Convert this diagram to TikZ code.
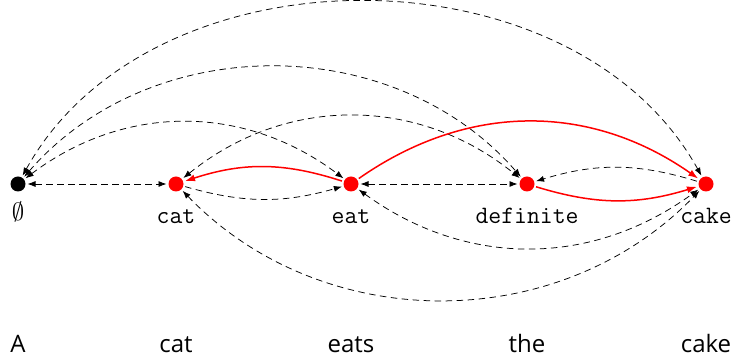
\documentclass[tikz,border=0pt]{standalone}
\usepackage{fontspec}
\newfontfamily\wordfont{Open Sans}
\usetikzlibrary{arrows.meta}
\tikzset{
  dot/.style={circle,fill=#1,minimum size=15pt,inner sep=0pt,outer sep=2pt},
  dot/.default=red,
  dedge/.style={draw=black,line width=0.75pt,dash pattern=on 6.5pt off 4.5pt},
  bothtips/.style={{Latex[length=8pt,width=6pt]}-{Latex[length=8pt,width=6pt]}},
  onetip/.style={-{Latex[length=8pt,width=6pt]}},
  redge/.style={draw=red,line width=1.5pt,-{Latex[length=10pt,width=7pt]}},
  ttlab/.style={anchor=base,font=\fontsize{25}{28}\selectfont\ttfamily,inner sep=0pt},
  wordlab/.style={anchor=base,font=\fontsize{24}{28}\selectfont\wordfont,inner sep=0pt}
}
\begin{document}
\begin{tikzpicture}[x=1pt,y=1pt]
\useasboundingbox (0,0) rectangle (737,364);
\node[dot=black] (e) at (18,180) {};
\node[dot] (cat) at (176,180) {};
\node[dot] (eat) at (351,180) {};
\node[dot] (def) at (527,180) {};
\node[dot] (cake) at (706,180) {};
% labels
\node[anchor=base,inner sep=0pt,font=\fontsize{25}{28}\selectfont] (le) at (18,143) {$\emptyset$};
\node[ttlab] (lcat) at (176,140) {cat};
\node[ttlab] (leat) at (351,140) {eat};
\node[ttlab] (ldef) at (527,140) {definite};
\node[ttlab] (lcake) at (706,140) {cake};
% words
\node[wordlab] (w1) at (18,11) {A};
\node[wordlab] (w2) at (176,11) {cat};
\node[wordlab] (w3) at (351,11) {eats};
\node[wordlab] (w4) at (527,11) {the};
\node[wordlab] (w5) at (706,11) {cake};
% dashed edges
\draw[dedge,bothtips] (e) -- (cat);
\draw[dedge,bothtips] (e) to[bend left=37] (eat);
\draw[dedge,bothtips] (e) to[bend left=49] (def);
\draw[dedge,bothtips] (e) to[bend left=61] (cake);
\draw[dedge,bothtips] (cat) to[bend left=39] (def);
\draw[dedge,onetip] (cat) to[bend right=16] (eat);
\draw[dedge,bothtips] (eat) -- (def);
\draw[dedge,onetip] (cake) to[bend right=17] (def);
\draw[dedge,bothtips] (eat) to[bend right=36] (cake);
\draw[dedge,bothtips] (cat) to[bend right=46] (cake);
% red edges
\draw[redge] (eat) to[bend right=18] (cat);
\draw[redge] (eat) to[bend left=35] (cake);
\draw[redge] (def) to[bend right=17] (cake);
\end{tikzpicture}
\end{document}
